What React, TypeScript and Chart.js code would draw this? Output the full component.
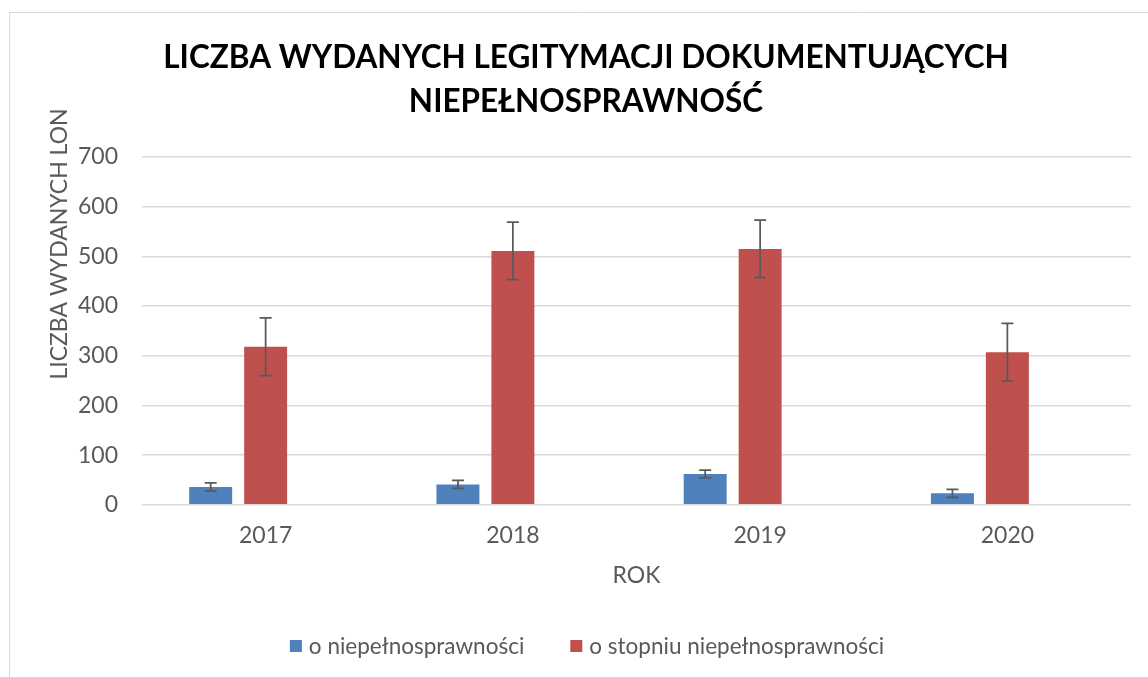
import React, { useEffect, useRef } from "react";
import { Chart, registerables } from "chart.js";

Chart.register(...registerables);

const categories = ["2017", "2018", "2019", "2020"];
const seriesNames = ["o niepełnosprawności", "o stopniu niepełnosprawności"];
const valuesDisability = [36, 41, 62, 23];
const valuesDegree = [318, 511, 515, 307];
const errorsDisability = [8, 8, 8, 8];
const errorsDegree = [58, 58, 58, 58];
const titleLines = ["LICZBA WYDANYCH LEGITYMACJI DOKUMENTUJĄCYCH", "NIEPEŁNOSPRAWNOŚĆ"];
const yAxisTitle = "LICZBA WYDANYCH LON";
const xAxisTitle = "ROK";

const FONT = "Lato, 'Open Sans', sans-serif";
const GRAY = "#595959";

export default function App() {
  const ref = useRef<HTMLCanvasElement | null>(null);

  useEffect(() => {
    const canvas = ref.current;
    if (!canvas) return;

    const borderPlugin = {
      id: "borderBox",
      beforeDraw(chart: any) {
        const ctx = chart.ctx;
        ctx.save();
        ctx.fillStyle = "#ffffff";
        ctx.fillRect(0, 0, chart.width, chart.height);
        ctx.strokeStyle = "#d9d9d9";
        ctx.lineWidth = 1;
        ctx.beginPath();
        ctx.moveTo(9.5, chart.height);
        ctx.lineTo(9.5, 12.5);
        ctx.lineTo(chart.width, 12.5);
        ctx.stroke();
        ctx.restore();
      },
    };

    const errorBarPlugin = {
      id: "errorBars",
      afterDatasetsDraw(chart: any) {
        const ctx = chart.ctx;
        const yScale = chart.scales.y;
        ctx.save();
        ctx.strokeStyle = GRAY;
        ctx.lineWidth = 1.75;
        chart.data.datasets.forEach((ds: any, i: number) => {
          if (!ds.errors) return;
          const meta = chart.getDatasetMeta(i);
          meta.data.forEach((bar: any, j: number) => {
            const v = ds.data[j];
            const e = ds.errors[j];
            if (v == null || e == null) return;
            const x = bar.x;
            const yTop = yScale.getPixelForValue(v + e);
            const yBot = yScale.getPixelForValue(v - e);
            const half = 6;
            ctx.beginPath();
            ctx.moveTo(x, yTop);
            ctx.lineTo(x, yBot);
            ctx.moveTo(x - half, yTop);
            ctx.lineTo(x + half, yTop);
            ctx.moveTo(x - half, yBot);
            ctx.lineTo(x + half, yBot);
            ctx.stroke();
          });
        });
        ctx.restore();
      },
    };

    const textPlugin = {
      id: "extraTexts",
      afterDraw(chart: any) {
        const ctx = chart.ctx;
        ctx.save();
        // y-axis title
        ctx.fillStyle = GRAY;
        ctx.font = `23px ${FONT}`;
        ctx.textAlign = "center";
        ctx.textBaseline = "middle";
        ctx.translate(60, 244);
        ctx.rotate(-Math.PI / 2);
        ctx.fillText(yAxisTitle, 0, 0);
        ctx.restore();

        // legend
        ctx.save();
        ctx.font = `22.5px ${FONT}`;
        ctx.textBaseline = "middle";
        ctx.textAlign = "left";
        const items = chart.data.datasets.filter((d: any) => d.label);
        const box = 12;
        const gapText = 7;
        const gapItem = 46;
        const widths = items.map((d: any) => box + gapText + ctx.measureText(d.label).width);
        const total = widths.reduce((a: number, b: number) => a + b, 0) + gapItem * (items.length - 1);
        let x = 587 - total / 2;
        const yc = 646;
        items.forEach((d: any, i: number) => {
          ctx.fillStyle = d.backgroundColor;
          ctx.fillRect(x, yc - box / 2, box, box);
          ctx.fillStyle = GRAY;
          ctx.fillText(d.label, x + box + gapText, yc + 1);
          x += widths[i] + gapItem;
        });
        ctx.restore();
      },
    };

    const chart = new Chart(canvas, {
      type: "bar",
      data: {
        labels: categories,
        datasets: [
          {
            label: seriesNames[0],
            data: valuesDisability,
            errors: errorsDisability,
            backgroundColor: "#4f81bd",
            borderWidth: 0,
          } as any,
          {
            label: seriesNames[1],
            data: valuesDegree,
            errors: errorsDegree,
            backgroundColor: "#c0504d",
            borderWidth: 0,
          } as any,
          {
            label: "",
            data: categories.map(() => null),
            backgroundColor: "transparent",
          },
        ],
      },
      options: {
        animation: false,
        responsive: false,
        maintainAspectRatio: false,
        datasets: {
          bar: {
            categoryPercentage: 0.6667,
            barPercentage: 0.782,
          },
        },
        layout: {
          padding: { left: 41, right: 17, top: 0, bottom: 88 },
        },
        plugins: {
          legend: { display: false },
          tooltip: { enabled: false },
          title: {
            display: true,
            text: titleLines,
            color: "#000000",
            font: { family: FONT, size: 31.5, weight: "bold", lineHeight: 44 / 31.5 },
            padding: { top: 36, bottom: 33 },
          },
        },
        scales: {
          x: {
            grid: { display: false, drawTicks: false },
            border: { display: false },
            ticks: {
              color: GRAY,
              font: { family: FONT, size: 23 },
              padding: 17,
            },
            title: {
              display: true,
              text: xAxisTitle,
              color: GRAY,
              font: { family: FONT, size: 23 },
              padding: { top: -5, bottom: 0 },
            },
          },
          y: {
            min: 0,
            max: 700,
            grid: { color: "#d9d9d9", lineWidth: 1.5, drawTicks: false },
            border: { display: false },
            ticks: {
              stepSize: 100,
              color: GRAY,
              font: { family: FONT, size: 23 },
              padding: 24,
            },
            afterFit(scale: any) {
              scale.width = 101;
            },
          },
        },
      },
      plugins: [borderPlugin, errorBarPlugin, textPlugin],
    } as any);

    return () => chart.destroy();
  }, []);

  return (
    <canvas
      ref={ref}
      width={1148}
      height={677}
      style={{ position: "fixed", left: 0, top: 0, width: 1148, height: 677, display: "block" }}
    />
  );
}
